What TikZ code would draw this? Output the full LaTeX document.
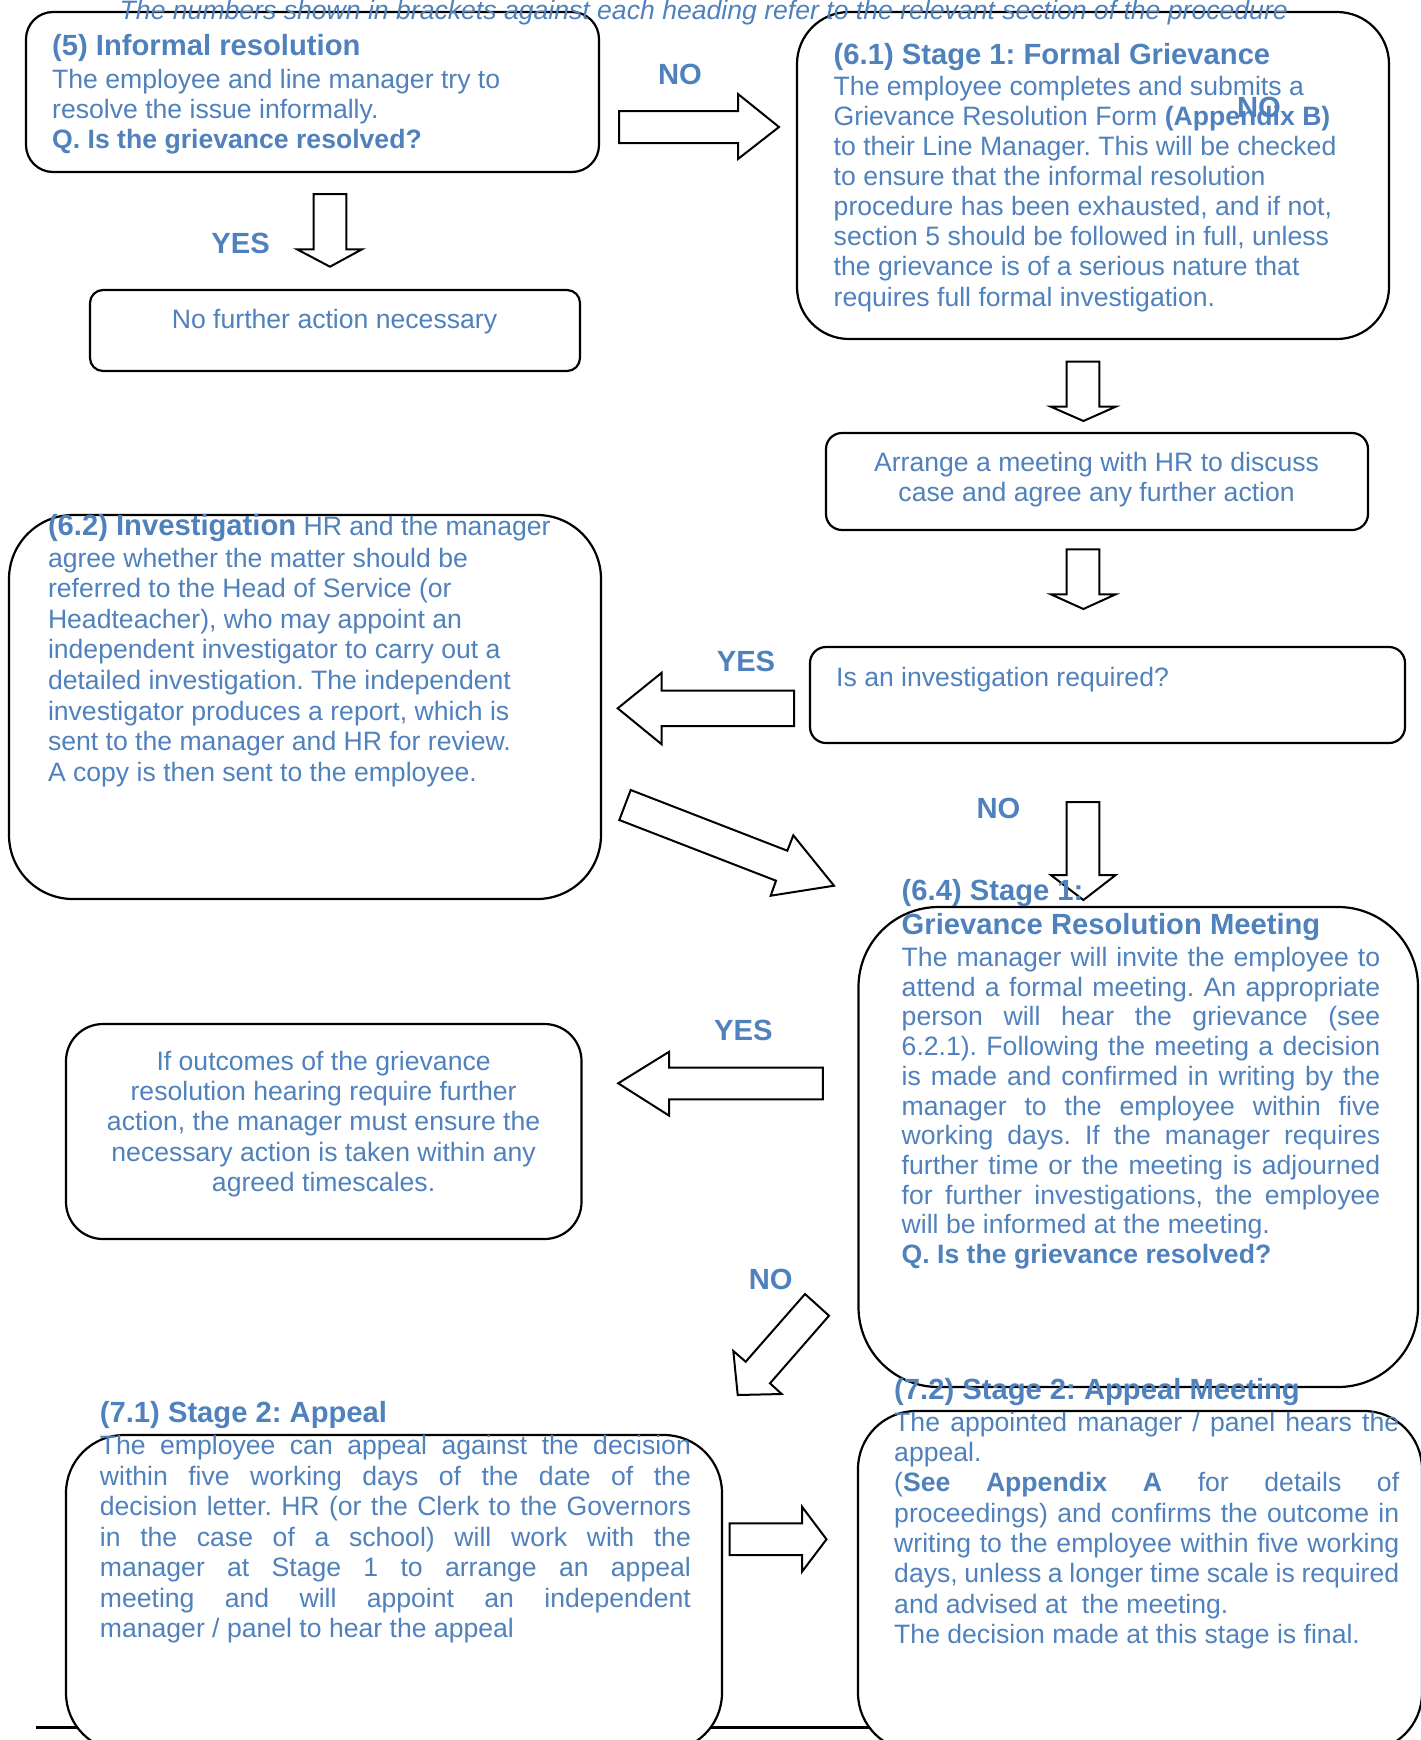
\documentclass[tikz,border=0pt]{standalone}
\usepackage{fontspec}
\setmainfont{Liberation Sans}
\frenchspacing
\definecolor{tb}{RGB}{79,129,189}
\newcommand\bodyfont{\fontsize{26.6}{30.3}\selectfont}
\newcommand\headfont{\fontsize{29.2}{33}\selectfont\bfseries}
\newcommand\hf[1]{{\fontsize{29.2}{33}\selectfont\bfseries #1}}
\newcommand\jl[2]{\hbox to #1{#2}}
\newcommand\nl[1]{\hbox{#1}}
\newcommand\cl[2]{\hbox to #1{\hfil #2\hfil}}
\newcommand\blk[2]{\vtop{\baselineskip=#1\lineskip=0pt\lineskiplimit=-1000pt #2}}
\begin{document}
\begin{tikzpicture}[x=1pt,y=-1pt,
  box/.style={draw=black,line width=2.2pt,fill=white},
  barrow/.style={draw=black,line width=2pt,fill=white,line join=miter},
  txt/.style={inner sep=0pt,text=tb,font=\bodyfont,anchor=base west},
  lbl/.style={inner sep=0pt,text=tb,font=\headfont}]
\useasboundingbox (0,0) rectangle (1421,1740);

% bottom rule
\draw[line width=3pt] (36,1727) -- (1000,1727);

% boxes
\draw[box,rounded corners=27pt] (26,12) rectangle (599,172);
\draw[box,rounded corners=52pt] (797,12) rectangle (1389,339);
\draw[box,rounded corners=13pt] (90,290) rectangle (580,371);
\draw[box,rounded corners=16pt] (826,433) rectangle (1368,530);
\draw[box,rounded corners=16pt] (810,647) rectangle (1405,743);
\draw[box,rounded corners=64pt] (9,515) rectangle (601,899);
\draw[box,rounded corners=80pt] (858.5,907) rectangle (1418,1387);
\draw[box,rounded corners=37pt] (66,1024) rectangle (581.5,1239);
\draw[box,rounded corners=58pt] (66,1435) rectangle (722,1751);
\draw[box,rounded corners=58pt] (858,1411) rectangle (1422,1751);

% block arrows
\draw[barrow] (619,111) -- (738,111) -- (738,94) -- (779,127) -- (738,159) -- (738,143) -- (619,143) -- cycle;
\draw[barrow] (313.6,194) -- (346.4,194) -- (346.4,249.3) -- (362,249.3) -- (330,266.7) -- (297,249.3) -- (313.6,249.3) -- cycle;
\draw[barrow] (1066.7,361.7) -- (1099.4,361.7) -- (1099.4,406.7) -- (1115.7,406.7) -- (1083.4,421) -- (1050.8,406.7) -- (1066.7,406.7) -- cycle;
\draw[barrow] (1066.7,549.3) -- (1099.4,549.3) -- (1099.4,594.3) -- (1115.7,594.3) -- (1083.4,609) -- (1050.8,594.3) -- (1066.7,594.3) -- cycle;
\draw[barrow] (794,690.7) -- (661.7,690.7) -- (661.7,672.7) -- (617.7,708.3) -- (661.7,744.3) -- (661.7,726) -- (794,726) -- cycle;
\draw[barrow] (630.7,790) -- (787.3,850.7) -- (793.3,835.3) -- (834,885.7) -- (770.7,895.7) -- (776,880.7) -- (619.3,820) -- cycle;
\draw[barrow] (1066.7,802) -- (1099.4,802) -- (1099.4,875) -- (1115.7,875) -- (1083.4,900) -- (1050.8,875) -- (1066.7,875) -- cycle;
\draw[barrow] (822.8,1067.7) -- (669.2,1067.7) -- (669.2,1051.7) -- (618.2,1083.3) -- (669.2,1115.7) -- (669.2,1099.3) -- (822.8,1099.3) -- cycle;
\draw[barrow] (805,1294) -- (829,1315.7) -- (770,1383.3) -- (781.7,1394) -- (737.7,1395) -- (733.3,1351) -- (745.7,1361.7) -- cycle;
\draw[barrow] (729.5,1523.3) -- (802,1523.3) -- (802,1506.7) -- (826.5,1539.3) -- (802,1571.7) -- (802,1555) -- (729.5,1555) -- cycle;

% caption
\node[txt,anchor=base,font=\bodyfont\itshape] (cap) at (703.8,19.5) {The numbers shown in brackets against each heading refer to the relevant section of the procedure};

% (5)
\node[txt,font=\headfont] (h5) at (52,55) {(5) Informal resolution};
\node[txt] (t5) at (52,88) {\blk{30pt}{\nl{The employee and line manager try to}\nl{resolve the issue informally.}\nl{\textbf{Q. Is the grievance resolved?}}}};

% labels
\node[lbl] (no1) at (680,74) {NO};
\node[lbl] (yes1) at (240.7,243) {YES};

% (6.1)
\node[txt,font=\headfont] (h61) at (833.5,64) {(6.1) Stage 1: Formal Grievance};
\node[txt] (t61) at (833.5,95) {\blk{30.15pt}{%
\nl{The employee completes and submits a}%
\nl{Grievance Resolution Form \textbf{(Appendix B)}}%
\nl{to their Line Manager. This will be checked}%
\nl{to ensure that the informal resolution}%
\nl{procedure has been exhausted, and if not,}%
\nl{section 5 should be followed in full, unless}%
\nl{the grievance is of a serious nature that}%
\nl{requires full formal investigation.}}};
\node[lbl] (no1b) at (1259,107) {NO};

\node[txt,anchor=base] (nfa) at (334.5,328) {No further action necessary};

\node[txt,anchor=base] (arr) at (1096.6,471.3) {\blk{30pt}{\cl{540pt}{Arrange a meeting with HR to discuss}\cl{540pt}{case and agree any further action}}};

\node[txt] (inv) at (836,686) {Is an investigation required?};

% (6.2)
\node[txt] (h62) at (47.8,535) {\hf{(6.2) Investigation} HR and the manager};
\node[txt] (t62) at (47.8,567) {\blk{30.6pt}{%
\nl{agree whether the matter should be}%
\nl{referred to the Head of Service (or}%
\nl{Headteacher), who may appoint an}%
\nl{independent investigator to carry out a}%
\nl{detailed investigation. The independent}%
\nl{investigator produces a report, which is}%
\nl{sent to the manager and HR for review.}%
\nl{A copy is then sent to the employee.}}};

\node[lbl] (yes2) at (746,661.5) {YES};
\node[lbl] (no2) at (998.4,808.7) {NO};

% (6.4)
\node[txt,font=\headfont] (h64) at (901.5,900.7) {\blk{33.3pt}{\nl{(6.4) Stage 1:}\nl{Grievance Resolution Meeting}}};
\node[txt] (t64) at (901.5,966.4) {\blk{29.73pt}{%
\jl{478.5pt}{The manager will invite the employee to}%
\jl{478.5pt}{attend a formal meeting. An appropriate}%
\jl{478.5pt}{person will hear the grievance (see}%
\jl{478.5pt}{6.2.1). Following the meeting a decision}%
\jl{478.5pt}{is made and confirmed in writing by the}%
\jl{478.5pt}{manager to the employee within five}%
\jl{478.5pt}{working days. If the manager requires}%
\jl{478.5pt}{further time or the meeting is adjourned}%
\jl{478.5pt}{for further investigations, the employee}%
\nl{will be informed at the meeting.}%
\nl{\textbf{Q. Is the grievance resolved?}}}};

\node[lbl] (yes3) at (743.3,1030) {YES};

\node[txt,anchor=base] (out) at (323.6,1070.3) {\blk{30.25pt}{%
\cl{500pt}{If outcomes of the grievance}%
\cl{500pt}{resolution hearing require further}%
\cl{500pt}{action, the manager must ensure the}%
\cl{500pt}{necessary action is taken within any}%
\cl{500pt}{agreed timescales.}}};

\node[lbl] (no3) at (770.7,1279.3) {NO};

% (7.1)
\node[txt,font=\headfont] (h71) at (99.7,1422.3) {(7.1) Stage 2: Appeal};
\node[txt] (t71) at (99.7,1454.6) {\blk{30.5pt}{%
\jl{591pt}{The employee can appeal against the decision}%
\jl{591pt}{within five working days of the date of the}%
\jl{591pt}{decision letter. HR (or the Clerk to the Governors}%
\jl{591pt}{in the case of a school) will work with the}%
\jl{591pt}{manager at Stage 1 to arrange an appeal}%
\jl{591pt}{meeting and will appoint an independent}%
\nl{manager / panel to hear the appeal}}};

% (7.2)
\node[txt,font=\headfont] (h72) at (894,1399) {(7.2) Stage 2: Appeal Meeting};
\node[txt] (t72) at (894,1431.2) {\blk{30.3pt}{%
\jl{505pt}{The appointed manager / panel hears the}%
\nl{appeal.}%
\jl{505pt}{(\textbf{See Appendix A} for details of}%
\jl{505pt}{proceedings) and confirms the outcome in}%
\jl{505pt}{writing to the employee within five working}%
\jl{505pt}{days, unless a longer time scale is required}%
\nl{and advised at\ \ the meeting.}%
\nl{The decision made at this stage is final.}}};
\end{tikzpicture}
\end{document}
